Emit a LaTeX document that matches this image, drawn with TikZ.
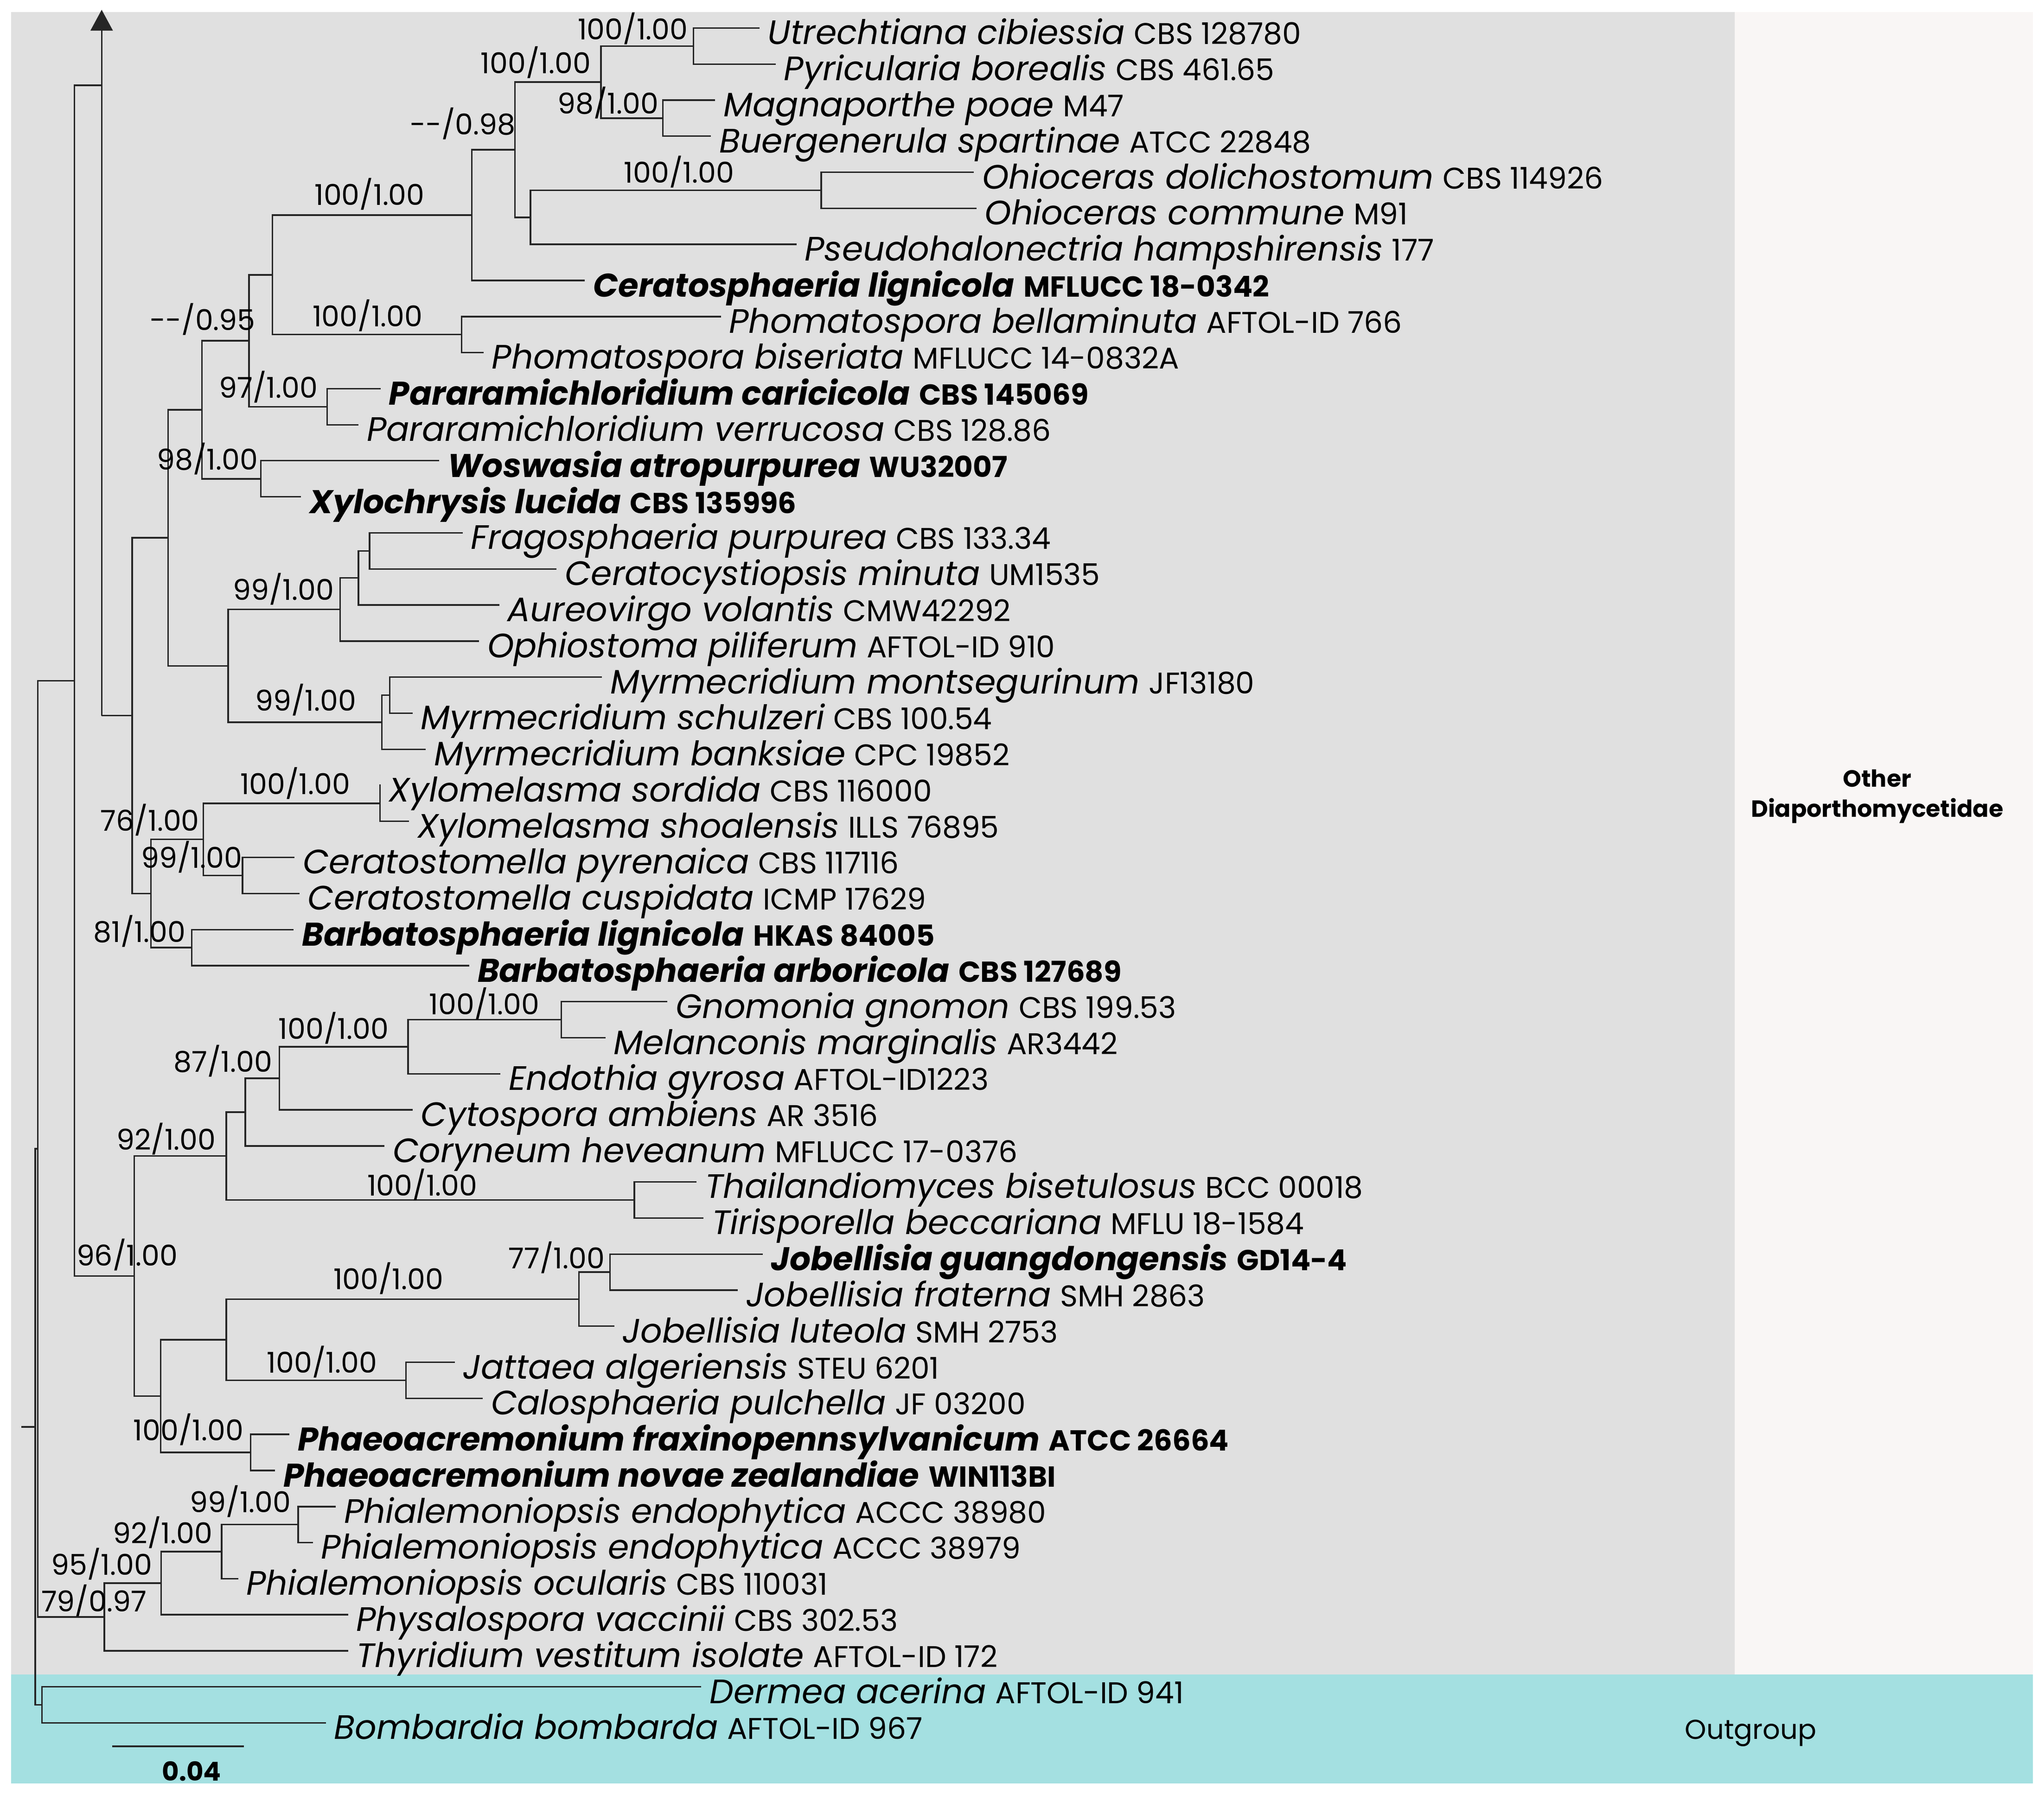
\documentclass[tikz,border=0pt]{standalone}
\usepackage{fontspec}
\setmainfont{Poppins}
\usetikzlibrary{arrows.meta}

\definecolor{cladegray}{HTML}{E0E0E0}
\definecolor{sidepanel}{HTML}{F9F6F5}
\definecolor{outcyan}{HTML}{A4E0E1}

\newcommand{\taxname}[2]{{\itshape #1} {\fontsize{11.5}{13}\selectfont #2}}
\newcommand{\newtaxname}[2]{{\bfseries\itshape\fontsize{12.6}{15}\selectfont #1} {\bfseries\fontsize{11.1}{13}\selectfont #2}}

\begin{document}
\begin{tikzpicture}[x=0.5pt,y=0.5pt]
\tikzstyle{every node}+=[inner sep=0pt]
\tikzstyle{branch}=[black!85, line width=0.6pt]
\tikzstyle{tiplabel}=[anchor=west, xshift=3pt, font=\fontsize{13}{15}\selectfont, text height=12.6pt, text depth=0pt]
\tikzstyle{support}=[font=\fontsize{11}{13}\selectfont]
\useasboundingbox (0,0) rectangle (1568,-1377);
% shaded blocks
\fill [cladegray] (8.5,-9.2) rectangle (1330.7,-1285);
\fill [sidepanel] (1330.7,-9.2) rectangle (1559.5,-1285);
\fill [outcyan] (8.5,-1285) rectangle (1559.5,-1368.5);
% tips
\coordinate (t1) at (582.6,-21.5); \node [tiplabel] (l1) at (t1) {\taxname{Utrechtiana cibiessia}{CBS 128780}};
\coordinate (t2) at (595,-49.2); \node [tiplabel] (l2) at (t2) {\taxname{Pyricularia borealis}{CBS 461.65}};
\coordinate (t3) at (548.6,-76.8); \node [tiplabel] (l3) at (t3) {\taxname{Magnaporthe poae}{M47}};
\coordinate (t4) at (545.4,-104.5); \node [tiplabel] (l4) at (t4) {\taxname{Buergenerula spartinae}{ATCC 22848}};
\coordinate (t5) at (747,-132.2); \node [tiplabel] (l5) at (t5) {\taxname{Ohioceras dolichostomum}{CBS 114926}};
\coordinate (t6) at (749,-159.9); \node [tiplabel] (l6) at (t6) {\taxname{Ohioceras commune}{M91}};
\coordinate (t7) at (611,-187.5); \node [tiplabel] (l7) at (t7) {\taxname{Pseudohalonectria hampshirensis}{177}};
\coordinate (t8) at (448.7,-215.2); \node [tiplabel] (l8) at (t8) {\newtaxname{Ceratosphaeria lignicola}{MFLUCC 18-0342}};
\coordinate (t9) at (553,-242.9); \node [tiplabel] (l9) at (t9) {\taxname{Phomatospora bellaminuta}{AFTOL-ID 766}};
\coordinate (t10) at (371,-270.5); \node [tiplabel] (l10) at (t10) {\taxname{Phomatospora biseriata}{MFLUCC 14-0832A}};
\coordinate (t11) at (292,-298.2); \node [tiplabel] (l11) at (t11) {\newtaxname{Pararamichloridium caricicola}{CBS 145069}};
\coordinate (t12) at (275,-325.9); \node [tiplabel] (l12) at (t12) {\taxname{Pararamichloridium verrucosa}{CBS 128.86}};
\coordinate (t13) at (337,-353.5); \node [tiplabel] (l13) at (t13) {\newtaxname{Woswasia atropurpurea}{WU32007}};
\coordinate (t14) at (231,-381.2); \node [tiplabel] (l14) at (t14) {\newtaxname{Xylochrysis lucida}{CBS 135996}};
\coordinate (t15) at (355,-408.9); \node [tiplabel] (l15) at (t15) {\taxname{Fragosphaeria purpurea}{CBS 133.34}};
\coordinate (t16) at (427,-436.6); \node [tiplabel] (l16) at (t16) {\taxname{Ceratocystiopsis minuta}{UM1535}};
\coordinate (t17) at (383,-464.2); \node [tiplabel] (l17) at (t17) {\taxname{Aureovirgo volantis}{CMW42292}};
\coordinate (t18) at (367.5,-491.9); \node [tiplabel] (l18) at (t18) {\taxname{Ophiostoma piliferum}{AFTOL-ID 910}};
\coordinate (t19) at (461.8,-519.6); \node [tiplabel] (l19) at (t19) {\taxname{Myrmecridium montsegurinum}{JF13180}};
\coordinate (t20) at (316.5,-547.2); \node [tiplabel] (l20) at (t20) {\taxname{Myrmecridium schulzeri}{CBS 100.54}};
\coordinate (t21) at (326.7,-574.9); \node [tiplabel] (l21) at (t21) {\taxname{Myrmecridium banksiae}{CPC 19852}};
\coordinate (t22) at (292,-602.6); \node [tiplabel] (l22) at (t22) {\taxname{Xylomelasma sordida}{CBS 116000}};
\coordinate (t23) at (313.8,-630.2); \node [tiplabel] (l23) at (t23) {\taxname{Xylomelasma shoalensis}{ILLS 76895}};
\coordinate (t24) at (226,-657.9); \node [tiplabel] (l24) at (t24) {\taxname{Ceratostomella pyrenaica}{CBS 117116}};
\coordinate (t25) at (229.7,-685.6); \node [tiplabel] (l25) at (t25) {\taxname{Ceratostomella cuspidata}{ICMP 17629}};
\coordinate (t26) at (225.3,-713.3); \node [tiplabel] (l26) at (t26) {\newtaxname{Barbatosphaeria lignicola}{HKAS 84005}};
\coordinate (t27) at (360,-740.9); \node [tiplabel] (l27) at (t27) {\newtaxname{Barbatosphaeria arboricola}{CBS 127689}};
\coordinate (t28) at (512,-768.6); \node [tiplabel] (l28) at (t28) {\taxname{Gnomonia gnomon}{CBS 199.53}};
\coordinate (t29) at (464.5,-796.3); \node [tiplabel] (l29) at (t29) {\taxname{Melanconis marginalis}{AR3442}};
\coordinate (t30) at (383.9,-823.9); \node [tiplabel] (l30) at (t30) {\taxname{Endothia gyrosa}{AFTOL-ID1223}};
\coordinate (t31) at (316.5,-851.6); \node [tiplabel] (l31) at (t31) {\taxname{Cytospora ambiens}{AR 3516}};
\coordinate (t32) at (295,-879.3); \node [tiplabel] (l32) at (t32) {\taxname{Coryneum heveanum}{MFLUCC 17-0376}};
\coordinate (t33) at (534.3,-906.9); \node [tiplabel] (l33) at (t33) {\taxname{Thailandiomyces bisetulosus}{BCC 00018}};
\coordinate (t34) at (539.7,-934.6); \node [tiplabel] (l34) at (t34) {\taxname{Tirisporella beccariana}{MFLU 18-1584}};
\coordinate (t35) at (585,-962.3); \node [tiplabel] (l35) at (t35) {\newtaxname{Jobellisia guangdongensis}{GD14-4}};
\coordinate (t36) at (566,-990.0); \node [tiplabel] (l36) at (t36) {\taxname{Jobellisia fraterna}{SMH 2863}};
\coordinate (t37) at (471.3,-1017.6); \node [tiplabel] (l37) at (t37) {\taxname{Jobellisia luteola}{SMH 2753}};
\coordinate (t38) at (348.8,-1045.3); \node [tiplabel] (l38) at (t38) {\taxname{Jattaea algeriensis}{STEU 6201}};
\coordinate (t39) at (370.3,-1073.0); \node [tiplabel] (l39) at (t39) {\taxname{Calosphaeria pulchella}{JF 03200}};
\coordinate (t40) at (222,-1100.6); \node [tiplabel] (l40) at (t40) {\newtaxname{Phaeoacremonium fraxinopennsylvanicum}{ATCC 26664}};
\coordinate (t41) at (211,-1128.3); \node [tiplabel] (l41) at (t41) {\newtaxname{Phaeoacremonium novae zealandiae}{WIN113BI}};
\coordinate (t42) at (257.6,-1156.0); \node [tiplabel] (l42) at (t42) {\taxname{Phialemoniopsis endophytica}{ACCC 38980}};
\coordinate (t43) at (240,-1183.6); \node [tiplabel] (l43) at (t43) {\taxname{Phialemoniopsis endophytica}{ACCC 38979}};
\coordinate (t44) at (182.7,-1211.3); \node [tiplabel] (l44) at (t44) {\taxname{Phialemoniopsis ocularis}{CBS 110031}};
\coordinate (t45) at (267,-1239.0); \node [tiplabel] (l45) at (t45) {\taxname{Physalospora vaccinii}{CBS 302.53}};
\coordinate (t46) at (267,-1266.7); \node [tiplabel] (l46) at (t46) {\taxname{Thyridium vestitum isolate}{AFTOL-ID 172}};
\coordinate (t47) at (538,-1294.3); \node [tiplabel] (l47) at (t47) {\taxname{Dermea acerina}{AFTOL-ID 941}};
\coordinate (t48) at (250,-1322.0); \node [tiplabel] (l48) at (t48) {\taxname{Bombardia bombarda}{AFTOL-ID 967}};
% internal nodes
\coordinate (n1) at (532,-35.34);
\coordinate (n2) at (508.5,-90.68);
\coordinate (n3) at (461,-63.01);
\coordinate (n4) at (630,-146.02);
\coordinate (n5) at (407,-166.77);
\coordinate (n6) at (395,-114.89);
\coordinate (n7) at (362,-165.04);
\coordinate (n8) at (354,-256.70);
\coordinate (n9) at (209,-210.87);
\coordinate (n10) at (251,-312.04);
\coordinate (n11) at (191,-261.46);
\coordinate (n12) at (200,-367.38);
\coordinate (n13) at (155,-314.42);
\coordinate (n14) at (283.5,-422.72);
\coordinate (n15) at (275,-443.47);
\coordinate (n16) at (261,-467.68);
\coordinate (n17) at (299,-533.40);
\coordinate (n18) at (293,-554.15);
\coordinate (n19) at (175,-510.92);
\coordinate (n20) at (129,-412.67);
\coordinate (n21) at (291.5,-616.41);
\coordinate (n22) at (186,-671.75);
\coordinate (n23) at (156,-644.08);
\coordinate (n24) at (147,-727.09);
\coordinate (n25) at (115.7,-685.59);
\coordinate (n26) at (101.4,-549.13);
\coordinate (stem) at (78,-549.13);
\coordinate (arw) at (78,-65.4);
\coordinate (apex) at (78,-7.5);
\coordinate (n28) at (430.5,-782.43);
\coordinate (n29) at (313,-803.18);
\coordinate (n30) at (214.4,-827.39);
\coordinate (n31) at (188.2,-853.33);
\coordinate (n32) at (486.6,-920.78);
\coordinate (n33) at (173.6,-887.06);
\coordinate (n34) at (468,-976.12);
\coordinate (n35) at (444,-996.87);
\coordinate (n36) at (311.4,-1059.13);
\coordinate (n37) at (173.6,-1028.0);
\coordinate (n38) at (192.3,-1114.47);
\coordinate (n39) at (123.2,-1071.24);
\coordinate (n40) at (103,-979.15);
\coordinate (n41) at (57,-522.28);
\coordinate (n42) at (228.7,-1169.81);
\coordinate (n43) at (170,-1190.56);
\coordinate (n44) at (123.5,-1214.77);
\coordinate (n45) at (80,-1240.71);
\coordinate (n46) at (29,-881.5);
\coordinate (n47) at (32.3,-1308.16);
\coordinate (n48) at (27,-1094.83);
\coordinate (root) at (16.3,-1094.83);
% branches
\draw [branch] (t1) -| (n1) |- (t2);
\draw [branch] (t3) -| (n2) |- (t4);
\draw [branch] (n1) -| (n3) |- (n2);
\draw [branch] (t5) -| (n4) |- (t6);
\draw [branch] (n4) -| (n5) |- (t7);
\draw [branch] (n3) -| (n6) |- (n5);
\draw [branch] (n6) -| (n7) |- (t8);
\draw [branch] (t9) -| (n8) |- (t10);
\draw [branch] (n7) -| (n9) |- (n8);
\draw [branch] (t11) -| (n10) |- (t12);
\draw [branch] (n9) -| (n11) |- (n10);
\draw [branch] (t13) -| (n12) |- (t14);
\draw [branch] (n11) -| (n13) |- (n12);
\draw [branch] (t15) -| (n14) |- (t16);
\draw [branch] (n14) -| (n15) |- (t17);
\draw [branch] (n15) -| (n16) |- (t18);
\draw [branch] (t19) -| (n17) |- (t20);
\draw [branch] (n17) -| (n18) |- (t21);
\draw [branch] (n16) -| (n19) |- (n18);
\draw [branch] (n13) -| (n20) |- (n19);
\draw [branch] (t22) -| (n21) |- (t23);
\draw [branch] (t24) -| (n22) |- (t25);
\draw [branch] (n21) -| (n23) |- (n22);
\draw [branch] (t26) -| (n24) |- (t27);
\draw [branch] (n23) -| (n25) |- (n24);
\draw [branch] (n20) -| (n26) |- (n25);
\draw [branch] (n26) -- (stem);
\draw [branch, -{Triangle[width=8.5pt,length=8pt]}] (stem) -- (apex);
\draw [branch] (t28) -| (n28) |- (t29);
\draw [branch] (n28) -| (n29) |- (t30);
\draw [branch] (n29) -| (n30) |- (t31);
\draw [branch] (n30) -| (n31) |- (t32);
\draw [branch] (t33) -| (n32) |- (t34);
\draw [branch] (n31) -| (n33) |- (n32);
\draw [branch] (t35) -| (n34) |- (t36);
\draw [branch] (n34) -| (n35) |- (t37);
\draw [branch] (t38) -| (n36) |- (t39);
\draw [branch] (n35) -| (n37) |- (n36);
\draw [branch] (t40) -| (n38) |- (t41);
\draw [branch] (n37) -| (n39) |- (n38);
\draw [branch] (n33) -| (n40) |- (n39);
\draw [branch] (arw) -| (n41) |- (n40);
\draw [branch] (t42) -| (n42) |- (t43);
\draw [branch] (n42) -| (n43) |- (t44);
\draw [branch] (n43) -| (n44) |- (t45);
\draw [branch] (n44) -| (n45) |- (t46);
\draw [branch] (n41) -| (n46) |- (n45);
\draw [branch] (t47) -| (n47) |- (t48);
\draw [branch] (n46) -| (n48) |- (n47);
\draw [branch] (root) -- (n48);
% support values
\node [support] (s1) at (485.5,-22) {100/1.00};
\node [support] (s2) at (411,-48) {100/1.00};
\node [support] (s3) at (466.5,-79) {98/1.00};
\node [support] (s4) at (521,-132) {100/1.00};
\node [support] (s5) at (355,-95) {-{}-/0.98};
\node [support] (s6) at (283.5,-149) {100/1.00};
\node [support] (s7) at (282,-242) {100/1.00};
\node [support] (s8) at (155.5,-245) {-{}-/0.95};
\node [support] (s9) at (206,-297) {97/1.00};
\node [support] (s10) at (159,-352) {98/1.00};
\node [support] (s11) at (217.5,-452) {99/1.00};
\node [support] (s12) at (234.5,-537) {99/1.00};
\node [support] (s13) at (226.5,-601) {100/1.00};
\node [support] (s14) at (115,-629) {76/1.00};
\node [support] (s15) at (147,-657.5) {99/1.00};
\node [support] (s16) at (107,-714.6) {81/1.00};
\node [support] (s17) at (371.5,-770) {100/1.00};
\node [support] (s18) at (256,-789) {100/1.00};
\node [support] (s19) at (171,-814) {87/1.00};
\node [support] (s20) at (127.5,-874) {92/1.00};
\node [support] (s21) at (324,-909) {100/1.00};
\node [support] (s22) at (97.5,-962.6) {96/1.00};
\node [support] (s23) at (427,-965) {77/1.00};
\node [support] (s24) at (298,-981) {100/1.00};
\node [support] (s25) at (247,-1045) {100/1.00};
\node [support] (s26) at (144.6,-1097) {100/1.00};
\node [support] (s27) at (184.5,-1152) {99/1.00};
\node [support] (s28) at (124.8,-1176) {92/1.00};
\node [support] (s29) at (78,-1200) {95/1.00};
\node [support] (s30) at (72,-1228) {79/0.97};
% group names and scale
\node [font=\bfseries\fontsize{9}{11.5}\selectfont, align=center] (grp) at (1440,-611) {Other\\Diaporthomycetidae};
\node [font=\fontsize{10.5}{12}\selectfont] (outg) at (1343,-1330) {Outgroup};
\coordinate (sb1) at (86,-1340);
\coordinate (sb2) at (187,-1340);
\draw [branch] (sb1) -- (sb2);
\node [font=\bfseries\fontsize{10}{12}\selectfont] (sbl) at (147,-1359) {0.04};
\end{tikzpicture}
\end{document}
